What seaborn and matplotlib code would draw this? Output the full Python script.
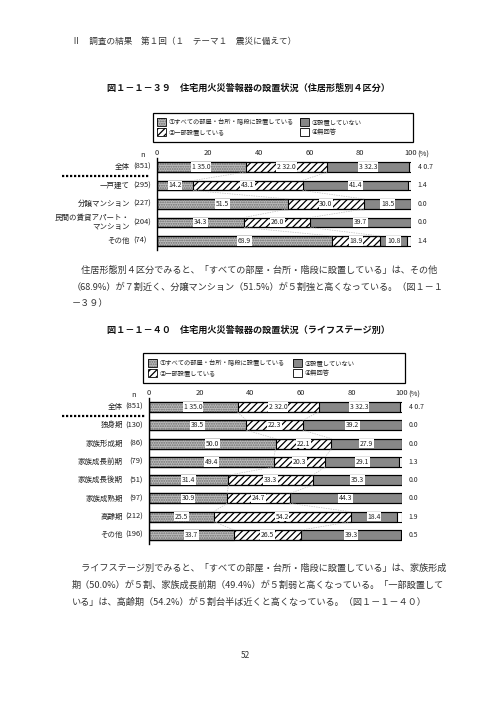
import matplotlib
matplotlib.use('Agg')
import matplotlib.pyplot as plt
import matplotlib.transforms as mtrans
from matplotlib.patches import Rectangle
import seaborn as sns
import pandas as pd
import numpy as np

sns.set_theme(style='white')
plt.rcParams['font.family'] = ['Noto Sans CJK JP', 'DejaVu Sans']
plt.rcParams['hatch.linewidth'] = 0.9

W, H = 496, 702

# ---------------- data ----------------
legend_labels = ['①すべての部屋・台所・階段に設置している', '②一部設置している',
                 '③設置していない', '④無回答']

c1_names = ['全体', '一戸建て', '分譲マンション', '民間の賃貸アパート・\nマンション', 'その他']
c1_n = ['(851)', '(295)', '(227)', '(204)', '(74)']
c1_all = [35.0, 14.2, 51.5, 34.3, 68.9]
c1_part = [32.0, 43.1, 30.0, 26.0, 18.9]
c1_none = [32.3, 41.4, 18.5, 39.7, 10.8]
c1_na = [0.7, 1.4, 0.0, 0.0, 1.4]

c2_names = ['全体', '独身期', '家族形成期', '家族成長前期', '家族成長後期', '家族成熟期', '高齢期', 'その他']
c2_n = ['(851)', '(130)', '(86)', '(79)', '(51)', '(97)', '(212)', '(196)']
c2_all = [35.0, 38.5, 50.0, 49.4, 31.4, 30.9, 25.5, 33.7]
c2_part = [32.0, 22.3, 22.1, 20.3, 33.3, 24.7, 54.2, 26.5]
c2_none = [32.3, 39.2, 27.9, 29.1, 35.3, 44.3, 18.4, 39.3]
c2_na = [0.7, 0.0, 0.0, 1.3, 0.0, 0.0, 1.9, 0.5]

tick_vals = [0, 20, 40, 60, 80, 100]
tick_labels = ['0', '20', '40', '60', '80', '100']

header = 'Ⅱ　調査の結果　第１回（１　テーマ１　震災に備えて）'
title1 = '図１－１－３９　住宅用火災警報器の設置状況（住居形態別４区分）'
title2 = '図１－１－４０　住宅用火災警報器の設置状況（ライフステージ別）'
body1 = ['　住居形態別４区分でみると、「すべての部屋・台所・階段に設置している」は、その他',
         '（68.9%）が７割近く、分譲マンション（51.5%）が５割強と高くなっている。（図１－１',
         '－３９）']
body2 = ['　ライフステージ別でみると、「すべての部屋・台所・階段に設置している」は、家族形成',
         '期（50.0%）が５割、家族成長前期（49.4%）が５割弱と高くなっている。「一部設置して',
         'いる」は、高齢期（54.2%）が５割台半ば近くと高くなっている。（図１－１－４０）']
page_no = '52'

# ---------------- styles ----------------
SEG = [dict(fc='#bdbdbd', hatch='.......', hc='#6e6e6e'),
       dict(fc='white', hatch='/////', hc='black'),
       dict(fc='#888888', hatch=None, hc='#888888'),
       dict(fc='white', hatch=None, hc='white')]
BAR_W = 0.54
TXT = '#222222'

fig = plt.figure(figsize=(W / 100, H / 100), dpi=100)
fig.patch.set_facecolor('white')
PX = mtrans.Affine2D().scale(1 / W, -1 / H).translate(0, 1) + fig.transFigure


def ftext(x, y, s, **kw):
    kw.setdefault('va', 'center')
    kw.setdefault('color', TXT)
    fig.text(x / W, 1 - y / H, s, **kw)


def px_axes(l, r, t, b):
    return fig.add_axes([l / W, 1 - b / H, (r - l) / W, (b - t) / H])


def draw_legend(l, r, t, b, c1x, c2x, r1y, r2y):
    fig.add_artist(Rectangle((l, t), r - l, b - t, transform=PX, fill=False,
                             ec='black', lw=0.9))
    spots = [(c1x, r1y), (c1x, r2y), (c2x, r1y), (c2x, r2y)]
    for k, (x, y) in enumerate(spots):
        st = SEG[k]
        fig.add_artist(Rectangle((x, y - 4), 9, 8, transform=PX, fc=st['fc'],
                                 ec=st['hc'], lw=0, hatch=st['hatch']))
        fig.add_artist(Rectangle((x, y - 4), 9, 8, transform=PX, fill=False,
                                 ec='black', lw=0.6))
        ftext(x + 12, y, legend_labels[k], fontsize=4.5, ha='left')


def draw_chart(ax, names, ns, segs, name_x, n_x, n_ha, sep_x0, sep_x1, n_lbl_x, tick_y):
    nrow = len(names)
    cats = [f'r{i}' for i in range(nrow)]
    vals = np.array(segs)
    cums = np.cumsum(vals, axis=0)
    df = pd.DataFrame({'cat': cats})
    for k in range(4):
        df[f'c{k}'] = cums[k]
    # fills, outermost first
    for k in [3, 2, 1, 0]:
        before = len(ax.patches)
        sns.barplot(data=df, x=f'c{k}', y='cat', order=cats, orient='h',
                    color=SEG[k]['fc'], width=BAR_W, errorbar=None, ax=ax)
        for p in ax.patches[before:]:
            p.set_facecolor(SEG[k]['fc'])
            p.set_edgecolor(SEG[k]['hc'])
            p.set_linewidth(0)
            if SEG[k]['hatch']:
                p.set_hatch(SEG[k]['hatch'])
    # outlines
    for k in [3, 2, 1, 0]:
        before = len(ax.patches)
        sns.barplot(data=df, x=f'c{k}', y='cat', order=cats, orient='h',
                    color='white', width=BAR_W, errorbar=None, ax=ax)
        for p in ax.patches[before:]:
            p.set_facecolor('none')
            p.set_edgecolor('black')
            p.set_linewidth(0.8)
            p.set_hatch(None)
    # connectors
    for i in range(nrow - 1):
        for k in range(2):
            ax.plot([cums[k][i], cums[k][i + 1]], [i + BAR_W / 2, i + 1 - BAR_W / 2],
                    color='#bdbdbd', lw=0.5, ls=(0, (2, 1.5)))
    # value labels
    for i in range(nrow):
        start = 0
        for k in range(3):
            v = vals[k][i]
            s = f'{k + 1} {v:.1f}' if i == 0 else f'{v:.1f}'
            ax.text(start + v / 2, i, s, ha='center', va='center', fontsize=4.9,
                    color=TXT, bbox=dict(boxstyle='square,pad=0.1', fc='white', ec='none'))
            start += v
        s = f'4 {vals[3][i]:.1f}' if i == 0 else f'{vals[3][i]:.1f}'
        ax.text(102.6, i, s, ha='left', va='center', fontsize=4.9, color=TXT)

    ax.set_xlim(0, 100)
    ax.set_ylim(nrow - 0.5, -0.5)
    ax.set_xlabel('')
    ax.set_ylabel('')
    ax.set_yticks([])
    ax.xaxis.set_ticks_position('top')
    ax.set_xticks(tick_vals)
    ax.set_xticklabels(tick_labels)
    ax.tick_params(axis='x', length=0, pad=0.5, labelsize=5.4, colors=TXT)
    for side in ['top', 'right', 'bottom']:
        ax.spines[side].set_visible(False)
    ax.spines['left'].set_color('black')
    ax.spines['left'].set_linewidth(1.0)
    ax.set_facecolor('none')

    bt = mtrans.blended_transform_factory(fig.transFigure, ax.transData)
    for i in range(nrow):
        ax.text(name_x / W, i, names[i], transform=bt, ha='right', va='center',
                fontsize=5.4, color=TXT, linespacing=1.05)
        ax.text(n_x / W, i, ns[i], transform=bt, ha=n_ha, va='center',
                fontsize=5.4, color=TXT)
    ax.plot([sep_x0 / W, sep_x1 / W], [0.5, 0.5], transform=bt, clip_on=False,
            color='black', lw=1.6, ls=(0, (1, 0.8)))
    bt2 = mtrans.blended_transform_factory(ax.transData, fig.transFigure)
    ax.text(102.4, 1 - tick_y / H, '(%)', transform=bt2, ha='left', va='center',
            fontsize=5.4, color=TXT)
    ftext(n_lbl_x, tick_y, 'n', fontsize=5.4, ha='center')


# ---------------- page text ----------------
ftext(72, 41, header, fontsize=6.2, ha='left', color='#333333')
ftext(107, 88, title1, fontsize=6.6, ha='left', fontweight='bold', color='#111111')
ftext(107, 330, title2, fontsize=6.6, ha='left', fontweight='bold', color='#111111')
for j, line in enumerate(body1):
    ftext(72, 270 + 17 * j, line, fontsize=6.6, ha='left', color='#333333')
for j, line in enumerate(body2):
    ftext(72, 568 + 17 * j, line, fontsize=6.6, ha='left', color='#333333')
ftext(245, 656, page_no, fontsize=6, ha='center', color='#333333')

# ---------------- chart 1 ----------------
draw_legend(153, 413, 113, 142, 157, 300, 122, 132)
ax1 = px_axes(157, 411, 157.75, 250.25)
draw_chart(ax1, c1_names, c1_n, [c1_all, c1_part, c1_none, c1_na],
           name_x=130, n_x=133, n_ha='left', sep_x0=62, sep_x1=150, n_lbl_x=143, tick_y=155)

# ---------------- chart 2 ----------------
draw_legend(143, 405, 353, 383, 148, 293, 363, 373)
ax2 = px_axes(149, 402, 397.9, 544.1)
draw_chart(ax2, c2_names, c2_n, [c2_all, c2_part, c2_none, c2_na],
           name_x=123, n_x=143, n_ha='right', sep_x0=62, sep_x1=146, n_lbl_x=134, tick_y=395)

fig.savefig('out.png', dpi=100, facecolor='white')
